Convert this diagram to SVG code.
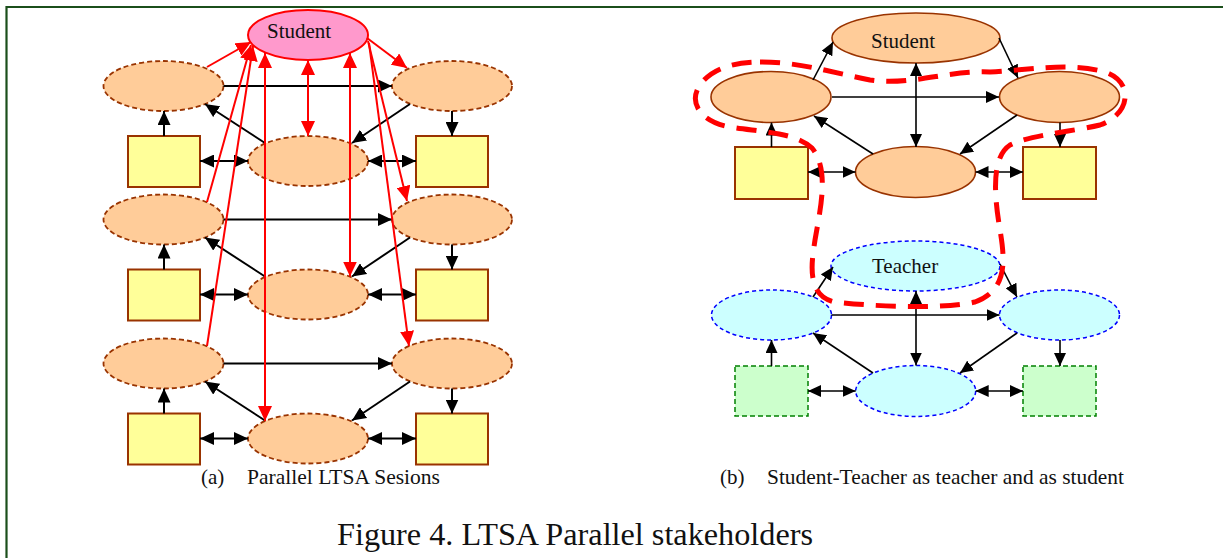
<svg xmlns="http://www.w3.org/2000/svg" width="1223" height="558" viewBox="0 0 1223 558">
<style>
.t{font-family:"Liberation Serif","Times New Roman",serif;font-size:21px;fill:#111}
.title{font-family:"Liberation Serif","Times New Roman",serif;font-size:32px;fill:#111}
.oe{fill:#ffcc99;stroke:#993300;stroke-width:1.8;stroke-dasharray:5 3}
.os{fill:#ffcc99;stroke:#993300;stroke-width:1.6}
.yb{fill:#ffff99;stroke:#993300;stroke-width:2}
.ce{fill:#ccffff;stroke:#0000ff;stroke-width:1.5;stroke-dasharray:4 3}
.gb{fill:#ccffcc;stroke:#008000;stroke-width:1.5;stroke-dasharray:5 3}
.k{stroke:#000;stroke-width:2;fill:none;marker-end:url(#ab)}
.kd{stroke:#000;stroke-width:2;fill:none;marker-end:url(#ab);marker-start:url(#ab)}
.k2{stroke:#000;stroke-width:1.6;fill:none;marker-end:url(#ab2)}
.k2d{stroke:#000;stroke-width:1.6;fill:none;marker-end:url(#ab2);marker-start:url(#ab2)}
.r{stroke:#ff0000;stroke-width:2;fill:none;marker-end:url(#ar)}
.rd{stroke:#ff0000;stroke-width:2;fill:none;marker-end:url(#ar);marker-start:url(#ar)}
</style>
<defs>
<marker id="ab" markerUnits="userSpaceOnUse" markerWidth="14" markerHeight="13" refX="14" refY="6.5" orient="auto-start-reverse" viewBox="0 0 14 13"><path d="M0,0 L14,6.5 L0,13 z" fill="#000"/></marker>
<marker id="ab2" markerUnits="userSpaceOnUse" markerWidth="13" markerHeight="12" refX="13" refY="6" orient="auto-start-reverse" viewBox="0 0 13 12"><path d="M0,0 L13,6 L0,12 z" fill="#000"/></marker>
<marker id="ar" markerUnits="userSpaceOnUse" markerWidth="15" markerHeight="14" refX="15" refY="7" orient="auto-start-reverse" viewBox="0 0 15 14"><path d="M0,0 L15,7 L0,14 z" fill="#ff0000"/></marker>
</defs>
<rect width="1223" height="558" fill="#fff"/>
<g id="frame" stroke="#1b4f1b" stroke-width="2.2" fill="none">
<path d="M6.5,558 V7 H1223"/>
</g>

<!-- (a) nodes -->
<g id="a-student"><ellipse cx="308" cy="35" rx="60" ry="25" fill="#ff99cc" stroke="#ff0000" stroke-width="2"/><text class="t" x="267" y="38">Student</text></g>

<g id="a-r1-left"><ellipse class="oe" cx="163.5" cy="86" rx="60" ry="25"/></g>
<g id="a-r1-right"><ellipse class="oe" cx="452" cy="86" rx="60" ry="25"/></g>
<g id="a-r1-mid"><ellipse class="oe" cx="308" cy="161" rx="60" ry="25"/></g>
<g id="a-r1-lbox"><rect class="yb" x="128" y="136" width="72" height="51"/></g>
<g id="a-r1-rbox"><rect class="yb" x="416" y="136" width="72" height="51"/></g>

<g id="a-r2-left"><ellipse class="oe" cx="163.5" cy="219.5" rx="60" ry="25"/></g>
<g id="a-r2-right"><ellipse class="oe" cx="452" cy="219.5" rx="60" ry="25"/></g>
<g id="a-r2-mid"><ellipse class="oe" cx="308" cy="294.5" rx="60" ry="25"/></g>
<g id="a-r2-lbox"><rect class="yb" x="128" y="269.5" width="72" height="51"/></g>
<g id="a-r2-rbox"><rect class="yb" x="416" y="269.5" width="72" height="51"/></g>

<g id="a-r3-left"><ellipse class="oe" cx="163.5" cy="363.5" rx="60" ry="25"/></g>
<g id="a-r3-right"><ellipse class="oe" cx="452" cy="363.5" rx="60" ry="25"/></g>
<g id="a-r3-mid"><ellipse class="oe" cx="308" cy="438.5" rx="60" ry="25"/></g>
<g id="a-r3-lbox"><rect class="yb" x="128" y="413.5" width="72" height="51"/></g>
<g id="a-r3-rbox"><rect class="yb" x="416" y="413.5" width="72" height="51"/></g>

<!-- (b) nodes -->
<g id="b-student"><ellipse class="os" cx="916" cy="38" rx="84" ry="25"/><text class="t" x="871" y="48">Student</text></g>
<g id="b-s-left"><ellipse class="os" cx="771" cy="97" rx="60" ry="25.5"/></g>
<g id="b-s-right"><ellipse class="os" cx="1059.5" cy="97" rx="60" ry="25.5"/></g>
<g id="b-s-mid"><ellipse class="os" cx="915.5" cy="172" rx="60" ry="25.5"/></g>
<g id="b-s-lbox"><rect class="yb" x="735" y="147" width="73" height="52"/></g>
<g id="b-s-rbox"><rect class="yb" x="1023" y="147" width="73" height="52"/></g>

<g id="b-teacher"><ellipse class="ce" cx="915.5" cy="266" rx="84.5" ry="25"/><text class="t" x="872" y="273">Teacher</text></g>
<g id="b-t-left"><ellipse class="ce" cx="771.5" cy="315" rx="60" ry="25"/></g>
<g id="b-t-right"><ellipse class="ce" cx="1059.5" cy="315" rx="60" ry="25"/></g>
<g id="b-t-mid"><ellipse class="ce" cx="915.7" cy="391" rx="60" ry="25.5"/></g>
<g id="b-t-lbox"><rect class="gb" x="735" y="366" width="73" height="50"/></g>
<g id="b-t-rbox"><rect class="gb" x="1023" y="366" width="73" height="50"/></g>

<!-- connectors -->
<g id="connectors">
<!-- (a) row 1 -->
<line class="k" x1="223.5" y1="86" x2="392" y2="86"/>
<line class="k" x1="410" y1="104" x2="352" y2="143"/>
<line class="k" x1="265" y1="143" x2="205" y2="104"/>
<line class="k" x1="164" y1="136" x2="164" y2="111"/>
<line class="k" x1="452" y1="111" x2="452" y2="136"/>
<line class="kd" x1="200" y1="161" x2="248" y2="161"/>
<line class="kd" x1="368" y1="161" x2="416" y2="161"/>
<!-- (a) row 2 -->
<line class="k" x1="223.5" y1="219.5" x2="392" y2="219.5"/>
<line class="k" x1="410" y1="237.5" x2="352" y2="276.5"/>
<line class="k" x1="265" y1="276.5" x2="205" y2="237.5"/>
<line class="k" x1="164" y1="269.5" x2="164" y2="244.5"/>
<line class="k" x1="452" y1="244.5" x2="452" y2="269.5"/>
<line class="kd" x1="200" y1="294.5" x2="248" y2="294.5"/>
<line class="kd" x1="368" y1="294.5" x2="416" y2="294.5"/>
<!-- (a) row 3 -->
<line class="k" x1="223.5" y1="363.5" x2="392" y2="363.5"/>
<line class="k" x1="410" y1="381.5" x2="352" y2="420.5"/>
<line class="k" x1="265" y1="420.5" x2="205" y2="381.5"/>
<line class="k" x1="164" y1="413.5" x2="164" y2="388.5"/>
<line class="k" x1="452" y1="388.5" x2="452" y2="413.5"/>
<line class="kd" x1="200" y1="438.5" x2="248" y2="438.5"/>
<line class="kd" x1="368" y1="438.5" x2="416" y2="438.5"/>
<!-- (a) red -->
<line class="r" x1="207" y1="67" x2="251" y2="42"/>
<line class="r" x1="207" y1="202" x2="251" y2="45"/>
<line class="r" x1="207" y1="346" x2="253" y2="46"/>
<line class="rd" x1="308" y1="60" x2="308" y2="136"/>
<line class="rd" x1="350" y1="53" x2="350" y2="276.5"/>
<line class="rd" x1="265" y1="53" x2="265" y2="421"/>
<line class="r" x1="367" y1="38" x2="407" y2="68"/>
<line class="r" x1="368" y1="41" x2="407" y2="201"/>
<line class="r" x1="369" y1="43" x2="409" y2="346"/>
<!-- (b) student side -->
<line class="k2" x1="813" y1="80" x2="833" y2="42"/>
<line class="k2" x1="999" y1="38" x2="1018" y2="78"/>
<line class="k2" x1="832" y1="97" x2="999" y2="97"/>
<line class="k2d" x1="916" y1="63" x2="916" y2="147"/>
<line class="k2" x1="1017" y1="115" x2="960" y2="154"/>
<line class="k2" x1="873" y1="154" x2="814" y2="116"/>
<line class="k2" x1="771.5" y1="147" x2="771.5" y2="122.5"/>
<line class="k2" x1="1060" y1="122.5" x2="1060" y2="147"/>
<line class="k2d" x1="808" y1="172" x2="855.5" y2="172"/>
<line class="k2d" x1="975.5" y1="172" x2="1023" y2="172"/>
<!-- (b) teacher side -->
<line class="k2" x1="813" y1="297" x2="833" y2="267"/>
<line class="k2" x1="1000" y1="264" x2="1017" y2="297"/>
<line class="k2" x1="831.5" y1="315" x2="999.5" y2="315"/>
<line class="k2d" x1="916" y1="291" x2="916" y2="365.5"/>
<line class="k2" x1="1017" y1="333" x2="960" y2="373"/>
<line class="k2" x1="873" y1="373" x2="813" y2="333"/>
<line class="k2" x1="771.5" y1="366" x2="771.5" y2="340"/>
<line class="k2" x1="1060" y1="340" x2="1060" y2="366"/>
<line class="k2d" x1="808" y1="391" x2="855.7" y2="391"/>
<line class="k2d" x1="975.7" y1="391" x2="1023" y2="391"/>
</g>

<g id="highlight">
<path d="M760,62 C800,62 830,72 870,80 C910,86 950,70 990,72 C1030,70 1070,62 1105,72 C1135,82 1130,115 1100,125 C1070,132 1030,135 1010,145 C990,158 995,200 1000,230 C1005,260 1008,290 975,302 C940,310 870,306 835,302 C805,296 812,260 815,240 C820,210 830,170 812,148 C795,132 760,132 730,127 C700,122 688,102 700,85 C712,68 735,62 760,62 Z" fill="none" stroke="#ff0000" stroke-width="5" stroke-dasharray="20 12"/>
</g>

<g id="captions">
<text class="t" x="201" y="484">(a)</text>
<text class="t" x="247" y="484" textLength="193" lengthAdjust="spacingAndGlyphs">Parallel LTSA Sesions</text>
<text class="t" x="720" y="484">(b)</text>
<text class="t" x="767" y="484" textLength="357" lengthAdjust="spacingAndGlyphs">Student-Teacher as teacher and as student</text>
<text class="title" x="337" y="545" textLength="476" lengthAdjust="spacingAndGlyphs">Figure 4. LTSA Parallel stakeholders</text>
</g>
</svg>
